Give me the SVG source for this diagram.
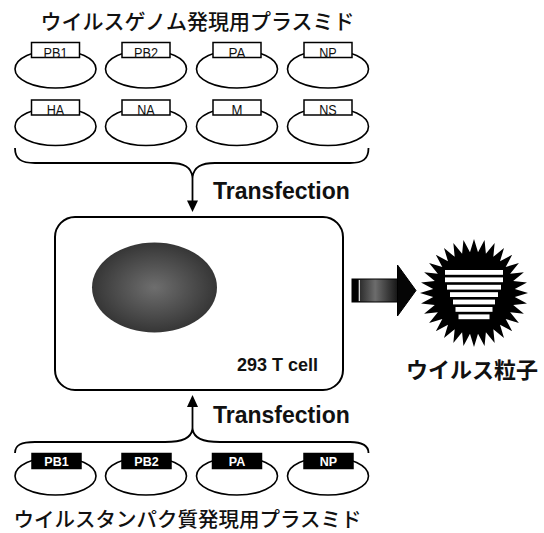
<svg xmlns="http://www.w3.org/2000/svg" width="544" height="533" viewBox="0 0 544 533">
  <style>
    .jp { font-family: "Noto Sans CJK JP", "Noto Sans CJK SC", sans-serif; fill: #111; }
    .lat { font-family: "Liberation Sans", Arial, sans-serif; fill: #111; }
    .ring { fill: none; stroke: #000; stroke-width: 1.6; }
    .tag { fill: #fff; stroke: #000; stroke-width: 1.5; }
    .tag-solid { fill: #000; stroke: #000; stroke-width: 1.5; }
    .tag-text { font-family: "Liberation Sans", Arial, sans-serif; font-size: 14.5px; fill: #111; text-anchor: middle; }
    .tag-text-w { font-family: "Liberation Sans", Arial, sans-serif; font-size: 12.5px; font-weight: bold; fill: #fff; text-anchor: middle; }
    .wire { fill: none; stroke: #000; stroke-width: 1.8; }
  </style>
  <defs>
    <radialGradient id="nucleusFill" cx="0.5" cy="0.5" r="0.5">
      <stop offset="0" stop-color="#6e6e6e"/>
      <stop offset="0.7" stop-color="#474747"/>
      <stop offset="1" stop-color="#363636"/>
    </radialGradient>
    <linearGradient id="arrowBody" x1="360" y1="0" x2="398" y2="0" gradientUnits="userSpaceOnUse">
      <stop offset="0" stop-color="#2e2e2e"/>
      <stop offset="0.4" stop-color="#6c6c6c"/>
      <stop offset="1" stop-color="#141414"/>
    </linearGradient>
  </defs>

  <!-- titles -->
  <text class="jp" x="197.5" y="28.5" font-size="21" font-weight="500" text-anchor="middle">ウイルスゲノム発現用プラスミド</text>
  <text class="jp" x="187.5" y="527" font-size="20.5" font-weight="500" text-anchor="middle">ウイルスタンパク質発現用プラスミド</text>

  <!-- genome plasmids, row 1 -->
  <g id="plasmid-PB1">
    <ellipse class="ring" cx="55.5" cy="69" rx="40.5" ry="19"/>
    <rect class="tag" x="31.5" y="42.5" width="48" height="15"/>
    <text class="tag-text" x="55.5" y="57.5" textLength="24" lengthAdjust="spacingAndGlyphs">PB1</text>
  </g>
  <g id="plasmid-PB2">
    <ellipse class="ring" cx="146" cy="69" rx="40.5" ry="19"/>
    <rect class="tag" x="122" y="42.5" width="48" height="15"/>
    <text class="tag-text" x="146" y="57.5" textLength="24" lengthAdjust="spacingAndGlyphs">PB2</text>
  </g>
  <g id="plasmid-PA">
    <ellipse class="ring" cx="237" cy="69" rx="40.5" ry="19"/>
    <rect class="tag" x="213" y="42.5" width="48" height="15"/>
    <text class="tag-text" x="237" y="57.5" textLength="17" lengthAdjust="spacingAndGlyphs">PA</text>
  </g>
  <g id="plasmid-NP">
    <ellipse class="ring" cx="328" cy="69" rx="40.5" ry="19"/>
    <rect class="tag" x="304" y="42.5" width="48" height="15"/>
    <text class="tag-text" x="328" y="57.5" textLength="17.5" lengthAdjust="spacingAndGlyphs">NP</text>
  </g>

  <!-- genome plasmids, row 2 -->
  <g id="plasmid-HA">
    <ellipse class="ring" cx="55.5" cy="126.5" rx="40.5" ry="19"/>
    <rect class="tag" x="31.5" y="100" width="48" height="15"/>
    <text class="tag-text" x="55.5" y="115" textLength="17.5" lengthAdjust="spacingAndGlyphs">HA</text>
  </g>
  <g id="plasmid-NA">
    <ellipse class="ring" cx="146" cy="126.5" rx="40.5" ry="19"/>
    <rect class="tag" x="122" y="100" width="48" height="15"/>
    <text class="tag-text" x="146" y="115" textLength="17.5" lengthAdjust="spacingAndGlyphs">NA</text>
  </g>
  <g id="plasmid-M">
    <ellipse class="ring" cx="237" cy="126.5" rx="40.5" ry="19"/>
    <rect class="tag" x="213" y="100" width="48" height="15"/>
    <text class="tag-text" x="237" y="115" textLength="11" lengthAdjust="spacingAndGlyphs">M</text>
  </g>
  <g id="plasmid-NS">
    <ellipse class="ring" cx="328" cy="126.5" rx="40.5" ry="19"/>
    <rect class="tag" x="304" y="100" width="48" height="15"/>
    <text class="tag-text" x="328" y="115" textLength="17.5" lengthAdjust="spacingAndGlyphs">NS</text>
  </g>

  <!-- protein plasmids -->
  <g id="protein-PB1">
    <ellipse class="ring" cx="55.5" cy="476" rx="40.5" ry="19"/>
    <rect class="tag-solid" x="32" y="453.5" width="49" height="15"/>
    <text class="tag-text-w" x="56.5" y="466">PB1</text>
  </g>
  <g id="protein-PB2">
    <ellipse class="ring" cx="146" cy="476" rx="40.5" ry="19"/>
    <rect class="tag-solid" x="122" y="453.5" width="49" height="15"/>
    <text class="tag-text-w" x="146.5" y="466">PB2</text>
  </g>
  <g id="protein-PA">
    <ellipse class="ring" cx="237" cy="476" rx="40.5" ry="19"/>
    <rect class="tag-solid" x="212.5" y="453.5" width="49" height="15"/>
    <text class="tag-text-w" x="237" y="466">PA</text>
  </g>
  <g id="protein-NP">
    <ellipse class="ring" cx="328" cy="476" rx="40.5" ry="19"/>
    <rect class="tag-solid" x="304" y="453.5" width="49" height="15"/>
    <text class="tag-text-w" x="328.5" y="466">NP</text>
  </g>

  <!-- host cell -->
  <g id="cell">
    <rect x="55" y="217" width="288" height="173" rx="20" ry="20" fill="#fff" stroke="#000" stroke-width="2"/>
    <ellipse cx="154.5" cy="287.5" rx="62.5" ry="45" fill="url(#nucleusFill)"/>
    <text class="lat" x="318" y="371" font-size="18" font-weight="bold" text-anchor="end">293 T cell</text>
  </g>

  <!-- virus particle -->
  <g id="virion">
    <polygon transform="translate(474,293)" fill="#000" points="54,0 40.8,4.02 52.96,10.53 39.23,11.9 49.89,20.66 36.16,19.33 44.9,30 31.69,26.01 38.18,38.18 26.01,31.69 30,44.9 19.33,36.16 20.66,49.89 11.9,39.23 10.53,52.96 4.02,40.8 0,54 -4.02,40.8 -10.53,52.96 -11.9,39.23 -20.66,49.89 -19.33,36.16 -30,44.9 -26.01,31.69 -38.18,38.18 -31.69,26.01 -44.9,30 -36.16,19.33 -49.89,20.66 -39.23,11.9 -52.96,10.53 -40.8,4.02 -54,0 -40.8,-4.02 -52.96,-10.53 -39.23,-11.9 -49.89,-20.66 -36.16,-19.33 -44.9,-30 -31.69,-26.01 -38.18,-38.18 -26.01,-31.69 -30,-44.9 -19.33,-36.16 -20.66,-49.89 -11.9,-39.23 -10.53,-52.96 -4.02,-40.8 0,-54 4.02,-40.8 10.53,-52.96 11.9,-39.23 20.66,-49.89 19.33,-36.16 30,-44.9 26.01,-31.69 38.18,-38.18 31.69,-26.01 44.9,-30 36.16,-19.33 49.89,-20.66 39.23,-11.9 52.96,-10.53 40.8,-4.02"/>
    <g fill="#fff">
      <rect x="445" y="270" width="58" height="4.8"/>
      <rect x="445" y="277.4" width="58" height="4.8"/>
      <rect x="447" y="284.8" width="54" height="4.8"/>
      <rect x="450" y="292.2" width="48" height="4.8"/>
      <rect x="453" y="299.6" width="42" height="4.8"/>
      <rect x="455.5" y="307" width="37" height="4.8"/>
      <rect x="458.5" y="314.4" width="31" height="4.8"/>
    </g>
    <text class="jp" x="472" y="378" font-size="22" font-weight="bold" text-anchor="middle">ウイルス粒子</text>
  </g>

  <!-- connectors -->
  <g id="connectors">
    <!-- brace gathering the genome plasmids -->
    <path class="wire" d="M15,148 C15,159 21,163 35,163 L170,163 C184,163 191,167 192.5,177 C194,167 201,163 215,163 L350,163 C363,163 368.5,159 368.5,148"/>
    <line class="wire" x1="192.5" y1="177" x2="192.5" y2="202"/>
    <polygon points="187,200.5 198,200.5 192.5,212" fill="#000"/>
    <text class="lat" x="213" y="199" font-size="23" font-weight="bold">Transfection</text>

    <!-- brace gathering the protein plasmids -->
    <path class="wire" d="M15,453 C15,445 21,442 35,442 L165,442 C183,442 191,438 192.5,429 C194,438 202,442 220,442 L350,442 C362,442 368.5,445 368.5,453"/>
    <line class="wire" x1="192.5" y1="429" x2="192.5" y2="405"/>
    <polygon points="187,407 198,407 192.5,395" fill="#000"/>
    <text class="lat" x="213" y="423" font-size="23" font-weight="bold">Transfection</text>

    <!-- block arrow from cell to virion -->
    <g id="release-arrow">
      <rect x="352" y="279" width="46" height="23" fill="url(#arrowBody)" stroke="#000" stroke-width="1"/>
      <rect x="352" y="279" width="6.5" height="23" fill="#000"/>
      <line x1="359.3" y1="280" x2="359.3" y2="301" stroke="#fff" stroke-width="1"/>
      <polygon points="397.5,265 416,290.5 397.5,316" fill="#050505" stroke="#000" stroke-width="1"/>
    </g>
  </g>
</svg>
